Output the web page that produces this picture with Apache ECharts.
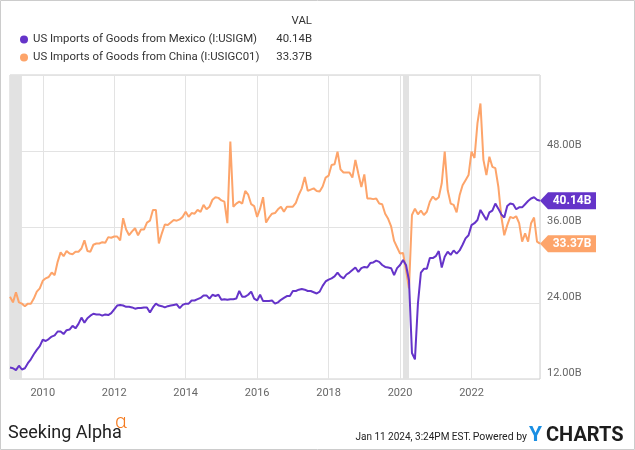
<!DOCTYPE html>
<html><head><meta charset="utf-8">
<script src="https://cdn.jsdelivr.net/npm/echarts@6/dist/echarts.min.js"></script>
<style>html,body{margin:0;padding:0;background:#fff}#c{width:635px;height:450px}</style>
</head><body><div id="c"></div><script>
// Monthly data, first month Jan 2009, last month Nov 2023 (values in billions USD)
const startYear = 2009;
const seriesNames = ['US Imports of Goods from Mexico (I:USIGM)', 'US Imports of Goods from China (I:USIGC01)'];
const mexico = [
13.8,13.7,13.4,14.1,13.5,13.7,14.5,15.1,15.9,16.6,
17.2,18.2,18.0,18.3,18.7,18.9,19.5,19.5,19.1,19.7,
19.8,20.4,20.0,20.7,21.7,20.9,21.6,22.0,22.3,22.2,
22.2,22.0,22.2,22.1,22.4,23.0,23.6,23.7,23.6,23.4,
23.4,23.3,23.1,23.2,23.2,23.3,23.3,22.5,23.3,23.9,
23.6,23.5,23.3,23.5,23.6,23.7,23.8,23.2,23.7,23.9,
23.9,24.4,24.4,24.6,24.8,25.2,25.2,24.7,25.3,25.1,
25.3,24.5,24.6,24.5,24.6,24.6,24.7,25.9,25.0,25.0,
25.3,25.8,24.7,24.4,25.3,24.3,24.3,24.3,24.4,23.9,
24.1,24.5,24.8,25.1,25.1,25.9,25.9,26.1,26.2,26.1,
25.9,25.9,25.7,25.5,25.8,26.7,27.4,27.7,27.9,28.2,
28.8,28.2,27.9,28.5,28.8,29.2,29.6,28.9,29.5,29.7,
29.6,30.3,30.4,30.7,30.5,30.0,29.7,29.6,29.5,28.4,
29.5,30.0,30.8,30.0,27.6,16.1,15.1,23.9,28.8,29.4,
29.4,31.1,31.1,31.4,32.2,29.6,31.3,32.1,31.6,32.3,
31.8,32.3,33.2,34.2,34.7,36.3,36.6,37.1,38.7,37.9,
37.1,38.3,38.6,39.7,38.9,38.0,37.5,39.3,39.7,39.6,
38.8,39.1,39.1,39.6,40.1,40.5,40.7,40.3,40.14
];
const china = [
25.0,24.1,25.7,24.1,23.9,23.5,23.9,23.9,24.7,25.8,
26.3,27.5,27.9,28.1,28.8,28.4,30.5,32.0,31.4,32.2,
31.8,31.7,32.1,32.1,32.6,33.9,32.2,32.1,33.2,33.4,
33.4,33.6,33.5,34.4,34.3,34.5,34.5,33.9,37.4,35.6,
34.7,35.3,35.8,34.7,35.6,35.6,36.7,37.0,38.7,38.7,
33.4,35.0,36.4,36.3,36.7,37.1,37.0,37.2,37.6,38.4,
37.6,38.2,38.1,38.7,38.4,39.5,38.8,39.2,40.3,40.7,
40.6,40.2,40.0,36.6,49.5,39.2,39.7,40.0,39.7,41.7,
41.1,39.6,39.3,37.6,38.9,40.7,36.7,37.5,38.1,38.2,
38.8,39.2,38.4,39.2,39.2,39.2,39.8,41.1,42.1,43.9,
41.7,41.9,42.1,41.7,41.6,42.4,43.8,44.1,45.8,45.9,
47.9,45.1,44.6,44.6,44.6,43.8,46.6,44.4,42.3,44.3,
40.5,40.5,40.4,40.5,39.7,39.6,38.1,37.3,36.1,33.8,
32.8,31.8,31.9,29.2,26.3,37.9,38.9,38.0,38.6,37.9,
38.4,40.0,40.8,40.3,40.7,42.9,47.9,41.8,39.7,39.5,
38.3,41.0,42.6,43.4,44.2,47.9,46.9,52.4,55.5,46.6,
44.2,47.1,45.5,45.3,42.4,37.7,34.7,36.3,37.6,37.4,
37.7,36.6,33.7,35.0,33.7,36.6,37.5,33.7,33.37
];
const lastLabels = ['40.14B', '33.37B'];
const recessions = [['2009-01-31', '2009-06-01'], ['2020-02-01', '2020-04-01']];
const yMin = 12, yMax = 60, yStep = 12;
const colors = ['#6534c9', '#fda46a'];

// month-end positions as fractional years
function monthEndYear(i) { return startYear + (i + 1) / 12; }
function dateToYear(s) { const p = s.split('-').map(Number); return p[0] + (p[1] - 1) / 12 + (p[2] - 1) / 365; }
const xMin = monthEndYear(0), xMax = monthEndYear(mexico.length - 1);
const toPairs = arr => arr.map((v, i) => [monthEndYear(i), v]);
const FONT = 'Roboto';

function tag(arr, label, color) {
  const last = arr.length - 1;
  return {
    silent: true,
    symbol: 'path://M0,8.5 L8,0 L56,0 L56,17 L8,17 Z',
    symbolSize: [56, 17],
    symbolOffset: [28, 0],
    itemStyle: { color: color },
    label: { show: true, position: 'inside', formatter: label, color: '#fff', fontWeight: 'bold', fontSize: 12, fontFamily: FONT, offset: [4, 0] },
    data: [{ coord: [monthEndYear(last), arr[last]] }]
  };
}
function txt(x, y, text, o) {
  return { type: 'text', x: x, y: y, silent: true,
    style: Object.assign({ text: text, align: 'left', verticalAlign: 'middle', fontSize: 12, fontFamily: FONT, fill: '#333' }, o || {}) };
}

const chart = echarts.init(document.getElementById('c'), null, { renderer: 'canvas' });
chart.setOption({
  animation: false,
  color: colors,
  grid: { left: 10, right: 95, top: 75, bottom: 71, show: true, borderColor: '#cfcfcf', borderWidth: 1, containLabel: false },
  legend: {
    data: seriesNames, orient: 'vertical', left: 15, top: 27.5, itemGap: 4,
    icon: 'circle', itemWidth: 8, itemHeight: 8, selectedMode: false,
    textStyle: { fontSize: 11.4, color: '#333', fontFamily: FONT, lineHeight: 14 }
  },
  xAxis: {
    type: 'value', min: xMin, max: xMax, splitNumber: 7,
    axisLine: { show: false }, axisTick: { show: false },
    splitLine: { show: true, lineStyle: { color: '#e3e3e3', width: 1 } },
    axisLabel: { showMinLabel: false, showMaxLabel: false, color: '#666', fontSize: 11, fontFamily: FONT, margin: 9,
      formatter: v => String(Math.round(v)) }
  },
  yAxis: {
    type: 'value', position: 'right', min: yMin, max: yMax, interval: yStep,
    axisLine: { show: false }, axisTick: { show: false },
    splitLine: { show: true, lineStyle: { color: '#e3e3e3', width: 1 } },
    axisLabel: { showMaxLabel: false, color: '#666', fontSize: 11, fontFamily: FONT, margin: 7,
      verticalAlign: 'bottom', lineHeight: 12, formatter: v => v.toFixed(2) + 'B' }
  },
  series: [
    {
      name: seriesNames[1], type: 'line', data: toPairs(china), showSymbol: false, symbol: 'none',
      lineStyle: { width: 2, color: colors[1] }, itemStyle: { color: colors[1] }, z: 2,
      markArea: {
        silent: true, itemStyle: { color: '#e2e2e2' },
        data: recessions.map(r => [{ xAxis: Math.max(xMin, dateToYear(r[0])) }, { xAxis: dateToYear(r[1]) }])
      },
      markPoint: tag(china, lastLabels[1], colors[1])
    },
    {
      name: seriesNames[0], type: 'line', data: toPairs(mexico), showSymbol: false, symbol: 'none',
      lineStyle: { width: 2, color: colors[0] }, itemStyle: { color: colors[0] }, z: 3,
      markPoint: tag(mexico, lastLabels[0], colors[0])
    }
  ],
  graphic: [
    { type: 'rect', silent: true, shape: { x: 0.5, y: 0.5, width: 634, height: 449 }, style: { fill: 'none', stroke: '#cccccc', lineWidth: 1 } },
    txt(312, 21, 'VAL', { align: 'right', fontSize: 11.4 }),
    txt(312, 39.5, lastLabels[0], { align: 'right', fontSize: 11.4 }),
    txt(312, 57, lastLabels[1], { align: 'right', fontSize: 11.4 }),
    txt(8, 433, 'Seeking Alpha', { fontSize: 18, fill: '#222' }),
    txt(115, 423, 'α', { fontSize: 21, fill: '#f47b20', fontWeight: 300 }),
    txt(471, 437, 'Jan 11 2024, 3:24PM EST.', { align: 'right', fontSize: 10, fill: '#222' }),
    txt(527, 437, 'Powered by', { align: 'right', fontSize: 10.5, fill: '#222' }),
    txt(529, 436, 'Y', { fontSize: 21, fontWeight: 'bold', fill: '#1a8fe3' }),
    txt(546, 436, 'CHARTS', { fontSize: 20, fontWeight: 'bold', fill: '#1d1d1d' })
  ]
});
</script></body></html>
